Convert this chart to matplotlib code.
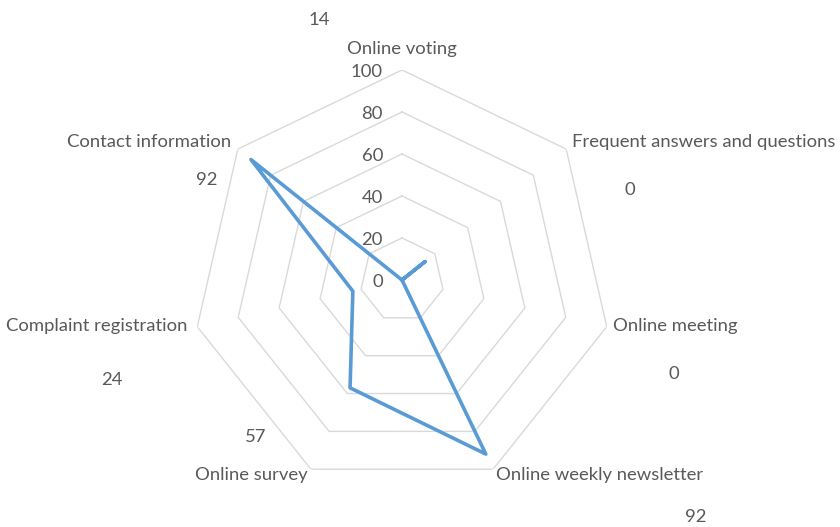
import numpy as np
import matplotlib
matplotlib.use('Agg')
import matplotlib.pyplot as plt

categories = ["Online voting", "Frequent answers and questions", "Online meeting",
              "Online weekly newsletter", "Online survey", "Complaint registration",
              "Contact information"]
values = [0, 14, 0, 92, 57, 24, 92]
label_values = [14, 0, 0, 92, 57, 24, 92]
ticks = [0, 20, 40, 60, 80, 100]

line_color = "#5B9BD5"
grid_color = "#D9D9D9"
text_color = "#595959"
fs = 13.3

plt.rcParams['font.family'] = ['Lato', 'DejaVu Sans']

fig = plt.figure(figsize=(8.4, 5.27), dpi=100)
ax = fig.add_axes([192 / 840, 37 / 527, 420 / 840, 420 / 527], projection='polar')
ax.set_theta_zero_location('N')
ax.set_theta_direction(-1)
ax.set_ylim(0, 100)
ax.grid(False)
ax.spines['polar'].set_visible(False)
ax.set_xticks([])
ax.set_yticks([])

n = len(categories)
theta = np.arange(n) * 2 * np.pi / n
theta_closed = np.append(theta, theta[0])

# heptagon gridlines
for t in ticks[1:]:
    ax.plot(theta_closed, [t] * (n + 1), color=grid_color, lw=1, zorder=1)

# tick labels along the top spoke
for t in ticks:
    ax.annotate(str(t), xy=(0, t), xytext=(-19, -2), textcoords='offset pixels',
                ha='right', va='center', fontsize=fs, color=text_color)

# data line
ax.plot(theta_closed, values + values[:1], color=line_color, lw=2.6, zorder=3,
        solid_joinstyle='round', solid_capstyle='round')

# category labels
cat_offsets = [(0, 21, 'center', 'center'), (6, 7, 'left', 'center'),
               (6, 1, 'left', 'center'), (3, -6, 'left', 'center'),
               (-3, -6, 'right', 'center'), (-10, 1, 'right', 'center'),
               (-7, 7, 'right', 'center')]
for th, name, (dx, dy, ha, va) in zip(theta, categories, cat_offsets):
    ax.annotate(name, xy=(th, 100), xytext=(dx, dy), textcoords='offset pixels',
                ha=ha, va=va, fontsize=fs, color=text_color, annotation_clip=False)

# value labels
val_offsets = [(-83, 50), (64, -41), (67, -47), (203, -48), (-55, 32), (-85, -53), (-31, -31)]
for th, v, (dx, dy) in zip(theta, label_values, val_offsets):
    ax.annotate(str(v), xy=(th, 100), xytext=(dx, dy), textcoords='offset pixels',
                ha='center', va='center', fontsize=fs, color=text_color, annotation_clip=False)

fig.savefig("out.png", dpi=100)
